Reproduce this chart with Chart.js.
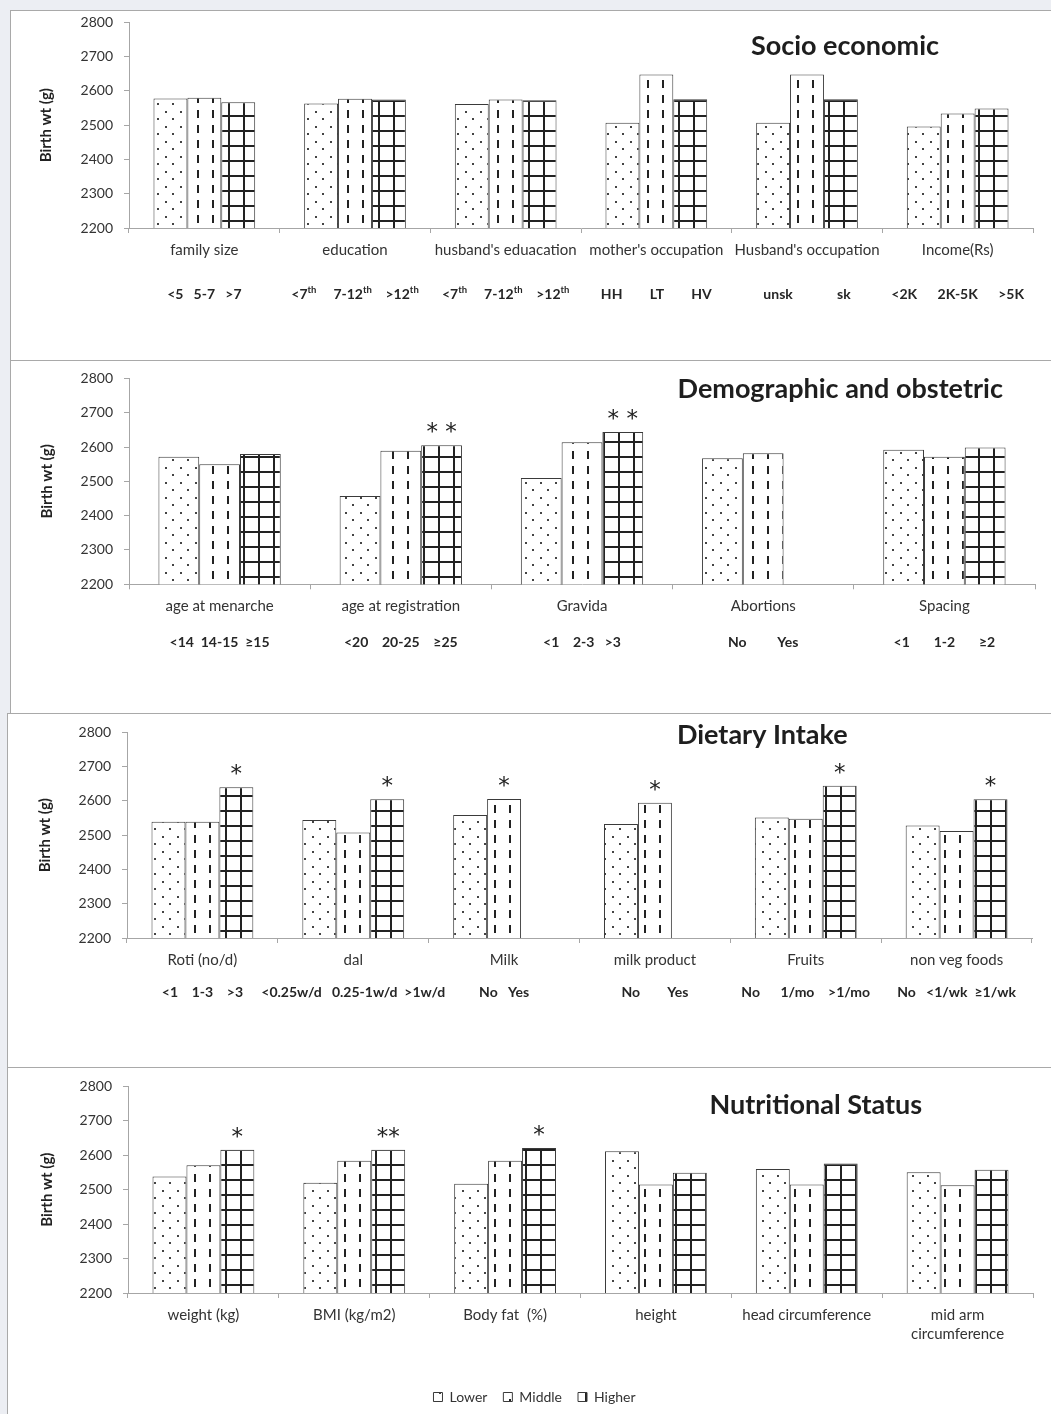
<!DOCTYPE html>
<html>
<head>
<meta charset="utf-8">
<script src="https://cdn.jsdelivr.net/npm/chart.js@4.4.1/dist/chart.umd.min.js"></script>
<style>
  html, body { margin: 0; padding: 0; background: #eceef3; width: 1051px; height: 1414px; overflow: hidden; font-family: Lato, sans-serif; }
  .panel { position: absolute; background: #fff; border: 1px solid #a9a9a9; box-sizing: border-box; }
  canvas { position: absolute; }
</style>
</head>
<body>
<div class="panel" style="left:10px; top:10px; width:1060px; height:351px;"></div>
<div class="panel" style="left:10px; top:360px; width:1060px; height:354px;"></div>
<div class="panel" style="left:7px; top:713px; width:1060px; height:355px;"></div>
<div class="panel" style="left:7px; top:1067px; width:1060px; height:400px;"></div>
<canvas id="c1" width="1040" height="357" style="left:11px; top:3px;"></canvas>
<canvas id="c2" width="1040" height="354" style="left:11px; top:359px;"></canvas>
<canvas id="c3" width="1043" height="354" style="left:8px; top:713px;"></canvas>
<canvas id="c4" width="1043" height="347" style="left:8px; top:1067px;"></canvas>
<script>
// ---------- DATA ----------
const seriesNames = ['Lower', 'Middle', 'Higher'];
const yTicks = [2200, 2300, 2400, 2500, 2600, 2700, 2800];

// Panel 1: Socio economic
const seCategories = ['family size', 'education', "husband's eduacation", "mother's occupation", "Husband's occupation", 'Income(Rs)'];
const seLower  = [2578, 2563, 2562, 2507, 2507, 2496];
const seMiddle = [2580, 2577, 2575, 2648, 2648, 2534];
const seHigher = [2567, 2575, 2573, 2576, 2576, 2549];
const seSub = ['<5   5-7   >7', '<7^th     7-12^th    >12^th', '<7^th     7-12^th    >12^th', 'HH        LT        HV', 'unsk             sk', '<2K      2K-5K      >5K'];
const seStarsLower  = ['', '', '', '', '', ''];
const seStarsMiddle = ['', '', '', '', '', ''];
const seStarsHigher = ['', '', '', '', '', ''];

// Panel 2: Demographic and obstetric
const doCategories = ['age at menarche', 'age at registration', 'Gravida', 'Abortions', 'Spacing'];
const doLower  = [2572, 2457, 2510, 2567, 2592];
const doMiddle = [2550, 2589, 2614, 2582, 2572];
const doHigher = [2580, 2605, 2644, null, 2599];
const doSub = ['<14  14-15  ≥15', '<20    20-25    ≥25', '<1    2-3   >3', 'No         Yes', '<1       1-2       ≥2'];
const doStarsLower  = ['', '', '', '', ''];
const doStarsMiddle = ['', '', '', '', ''];
const doStarsHigher = ['', '* *', '* *', '', ''];

// Panel 3: Dietary Intake
const diCategories = ['Roti (no/d)', 'dal', 'Milk', 'milk product', 'Fruits', 'non veg foods'];
const diLower  = [2539, 2544, 2559, 2533, 2552, 2528];
const diMiddle = [2539, 2508, 2606, 2595, 2548, 2512];
const diHigher = [2640, 2605, null, null, 2644, 2605];
const diSub = ['<1    1-3    >3', '<0.25w/d   0.25-1w/d  >1w/d', 'No   Yes', 'No        Yes', 'No      1/mo    >1/mo', 'No   <1/wk  ≥1/wk'];
const diStarsLower  = ['', '', '', '', '', ''];
const diStarsMiddle = ['', '', '*', '*', '', ''];
const diStarsHigher = ['*', '*', '', '', '*', '*'];

// Panel 4: Nutritional Status
const nsCategories = ['weight (kg)', 'BMI (kg/m2)', 'Body fat  (%)', 'height', 'head circumference', ['mid arm', 'circumference']];
const nsLower  = [2538, 2520, 2517, 2612, 2560, 2551];
const nsMiddle = [2571, 2584, 2584, 2515, 2515, 2513];
const nsHigher = [2616, 2616, 2621, 2549, 2576, 2558];
const nsSub = ['', '', '', '', '', ''];
const nsStarsLower  = ['', '', '', '', '', ''];
const nsStarsMiddle = ['', '', '', '', '', ''];
const nsStarsHigher = ['*', '**', '*', '', '', ''];

// ---------- STYLE ----------
const INK = '#222';
const TEXT = '#333';
const AXIS = '#a6a6a6';

function makePattern(kind) {
  const c = document.createElement('canvas');
  c.width = 15; c.height = 15;
  const g = c.getContext('2d');
  g.fillStyle = '#ffffff';
  g.fillRect(0, 0, 15, 15);
  g.fillStyle = INK;
  if (kind === 'dots') {
    g.fillStyle = '#444';
    g.fillRect(4, 3, 2, 2);
    g.fillRect(11, 10, 2, 2);
  } else if (kind === 'dash') {
    g.fillRect(6, 2, 2, 8);
  } else {
    g.fillRect(0, 7, 15, 2);
    g.fillRect(7, 0, 2, 15);
  }
  return g.createPattern(c, 'repeat');
}

function drawRich(ctx, str, cx, y, font, supFont) {
  const parts = [];
  const re = /\^(\w+)/g;
  let last = 0, m;
  while ((m = re.exec(str))) {
    if (m.index > last) parts.push({ t: str.slice(last, m.index), sup: false });
    parts.push({ t: m[1], sup: true });
    last = re.lastIndex;
  }
  if (last < str.length) parts.push({ t: str.slice(last), sup: false });
  let w = 0;
  parts.forEach(p => { ctx.font = p.sup ? supFont : font; p.w = ctx.measureText(p.t).width; w += p.w; });
  let x = cx - w / 2;
  ctx.textAlign = 'left';
  ctx.textBaseline = 'middle';
  parts.forEach(p => {
    ctx.font = p.sup ? supFont : font;
    ctx.fillText(p.t, x, p.sup ? y - 4 : y);
    x += p.w;
  });
}

const extrasPlugin = {
  id: 'extras',
  afterDatasetsDraw(chart, args, opts) {
    const ctx = chart.ctx;
    const ca = chart.chartArea;
    ctx.save();
    ctx.fillStyle = '#1e1e1e';
    // panel title
    if (opts.title) {
      ctx.font = 'bold 27px Lato, sans-serif';
      ctx.textAlign = 'center';
      ctx.textBaseline = 'middle';
      ctx.fillText(opts.title, ca.left + opts.tx * (ca.right - ca.left), ca.top + opts.ty * (ca.bottom - ca.top));
    }
    // significance stars
    (opts.stars || []).forEach((arr, di) => {
      const meta = chart.getDatasetMeta(di);
      arr.forEach((s, j) => {
        if (!s) return;
        const el = meta.data[j];
        if (!el) return;
        ctx.font = '23px "DejaVu Sans", sans-serif';
        ctx.textAlign = 'center';
        ctx.textBaseline = 'alphabetic';
        ctx.fillStyle = '#222';
        ctx.fillText(s, el.x, el.y - 6);
      });
    });
    // sub labels under categories
    const xs = chart.scales.x;
    ctx.fillStyle = '#262626';
    (opts.subs || []).forEach((s, j) => {
      if (!s) return;
      drawRich(ctx, s, xs.getPixelForValue(j), ca.bottom + opts.subY, 'bold 14px Lato, sans-serif', 'bold 9.5px Lato, sans-serif');
    });
    ctx.restore();
  }
};

function makePanel(id, cats, lower, middle, higher, subs, stars, o) {
  const datasets = [lower, middle, higher].map((d, i) => ({
    label: seriesNames[i],
    data: d,
    backgroundColor: makePattern(['dots', 'dash', 'grid'][i]),
    borderColor: '#3a3a3a',
    borderWidth: 1,
    categoryPercentage: 0.675,
    barPercentage: 1.0
  }));
  return new Chart(document.getElementById(id), {
    type: 'bar',
    data: { labels: cats, datasets },
    plugins: [extrasPlugin],
    options: {
      responsive: false,
      animation: false,
      devicePixelRatio: 1,
      layout: { padding: { top: 0, right: o.padRight, left: o.padLeft || 0, bottom: 0 } },
      plugins: {
        legend: o.legend ? {
          display: true,
          position: 'bottom',
          labels: { font: { family: 'Lato', size: 14 }, color: TEXT, boxWidth: 9, boxHeight: 9, padding: 16 }
        } : { display: false },
        tooltip: { enabled: false },
        extras: { title: o.title, tx: o.tx, ty: o.ty, subs, subY: o.subY, stars }
      },
      scales: {
        x: {
          grid: { display: true, drawOnChartArea: false, drawTicks: true, tickLength: 5, color: AXIS, offset: true },
          border: { color: AXIS },
          ticks: { color: TEXT, font: { family: 'Lato', size: 15, lineHeight: 1.3 }, padding: 7, autoSkip: false, maxRotation: 0, minRotation: 0 },
          afterFit(s) { s.height = o.xHeight; }
        },
        y: {
          min: 2200, max: 2800,
          afterBuildTicks(s) { s.ticks = yTicks.map(v => ({ value: v })); },
          grid: { display: true, drawOnChartArea: false, drawTicks: true, tickLength: 5, color: AXIS },
          border: { color: AXIS },
          ticks: { color: TEXT, font: { family: 'Lato', size: 14 }, padding: 11, callback: v => String(v) },
          title: { display: true, text: 'Birth wt (g)', color: '#222', font: { family: 'Lato', size: 15, weight: 'bold' }, padding: { top: o.yTitlePad, bottom: 0 } },
          afterFit(s) { s.width = o.yWidth; }
        }
      }
    }
  });
}

makePanel('c1', seCategories, seLower, seMiddle, seHigher, seSub, [seStarsLower, seStarsMiddle, seStarsHigher],
  { padRight: 18, yWidth: 118, xHeight: 132, title: 'Socio economic', tx: 0.792, ty: 0.117, subY: 66, yTitlePad: 26 });
makePanel('c2', doCategories, doLower, doMiddle, doHigher, doSub, [doStarsLower, doStarsMiddle, doStarsHigher],
  { padRight: 16, yWidth: 118, xHeight: 128.7, title: 'Demographic and obstetric', tx: 0.785, ty: 0.052, subY: 58, yTitlePad: 27 });
makePanel('c3', diCategories, diLower, diMiddle, diHigher, diSub, [diStarsLower, diStarsMiddle, diStarsHigher],
  { padRight: 19, yWidth: 119, xHeight: 129, title: 'Dietary Intake', tx: 0.702, ty: 0.013, subY: 54, yTitlePad: 28 });
makePanel('c4', nsCategories, nsLower, nsMiddle, nsHigher, nsSub, [nsStarsLower, nsStarsMiddle, nsStarsHigher],
  { padRight: 18, padLeft: 28, yWidth: 92, xHeight: 81, title: 'Nutritional Status', tx: 0.760, ty: 0.091, subY: 0, yTitlePad: 2, legend: true });
</script>
</body>
</html>
